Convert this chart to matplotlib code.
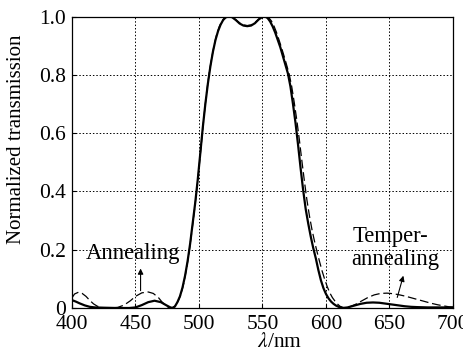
import matplotlib.pyplot as plt

plt.rcParams["font.family"] = ["Liberation Serif", "DejaVu Serif"]
plt.rcParams["mathtext.fontset"] = "stix"
plt.rcParams["font.size"] = 15.5

# temper-annealing (solid)
wl_temper = [400, 403, 406, 410, 414, 418, 425, 435, 445, 450, 455, 460, 465, 470,
             474, 477, 479, 481, 483, 485, 487, 489, 491, 493, 495, 497, 499, 501,
             503, 505, 507, 509, 511, 513, 515, 517, 519, 521, 523, 526, 529, 532,
             535, 538, 541, 544, 547, 550, 552, 554, 556, 558, 560, 562, 564, 566,
             568, 570, 572, 574, 576, 578, 580, 582, 584, 586, 588, 590, 592, 594,
             596, 598, 600, 602, 604, 606, 608, 610, 613, 617, 622, 627, 632, 637,
             642, 647, 652, 657, 662, 667, 672, 680, 690, 700]
t_temper = [0.027, 0.022, 0.016, 0.009, 0.004, 0.002, 0.001, 0.000, 0.000, 0.002,
            0.010, 0.020, 0.025, 0.020, 0.010, 0.003, 0.000, 0.005, 0.020, 0.040,
            0.070, 0.110, 0.160, 0.220, 0.290, 0.360, 0.440, 0.530, 0.620, 0.700,
            0.770, 0.830, 0.880, 0.920, 0.950, 0.972, 0.988, 0.997, 1.000, 0.998,
            0.988, 0.976, 0.969, 0.967, 0.969, 0.977, 0.990, 0.999, 1.000, 0.995,
            0.983, 0.966, 0.945, 0.920, 0.895, 0.865, 0.835, 0.805, 0.760, 0.700,
            0.635, 0.560, 0.480, 0.405, 0.340, 0.290, 0.245, 0.205, 0.170, 0.130,
            0.095, 0.068, 0.048, 0.033, 0.022, 0.014, 0.008, 0.004, 0.000, 0.002,
            0.008, 0.014, 0.018, 0.019, 0.018, 0.015, 0.012, 0.009, 0.006, 0.004,
            0.003, 0.002, 0.002, 0.002]

# annealing (dashed)
wl_anneal = [400, 402, 405, 408, 411, 414, 417, 420, 424, 430, 436, 441, 446, 450,
             455, 460, 464, 468, 471, 474, 476, 478, 480, 482, 484, 486, 488, 490,
             492, 494, 496, 498, 500, 502, 504, 506, 508, 510, 512, 514, 516, 518,
             520, 523, 526, 529, 532, 535, 538, 541, 544, 547, 550, 553, 555, 557,
             559, 561, 563, 565, 567, 569, 571, 573, 575, 577, 579, 581, 583, 585,
             587, 589, 591, 593, 595, 597, 599, 601, 603, 605, 607, 609, 611, 614,
             618, 623, 628, 633, 638, 643, 648, 653, 658, 663, 668, 673, 678, 683,
             688, 693, 697, 700]
t_anneal = [0.035, 0.048, 0.054, 0.050, 0.040, 0.026, 0.014, 0.006, 0.001, 0.000,
            0.002, 0.010, 0.025, 0.040, 0.052, 0.055, 0.050, 0.036, 0.020, 0.008,
            0.002, 0.000, 0.003, 0.012, 0.028, 0.050, 0.085, 0.130, 0.185, 0.250,
            0.320, 0.395, 0.480, 0.570, 0.660, 0.740, 0.805, 0.858, 0.903, 0.940,
            0.966, 0.984, 0.995, 1.000, 0.998, 0.989, 0.978, 0.971, 0.969, 0.971,
            0.979, 0.991, 0.999, 1.000, 0.996, 0.985, 0.968, 0.946, 0.920, 0.893,
            0.864, 0.834, 0.803, 0.760, 0.705, 0.645, 0.578, 0.505, 0.435, 0.370,
            0.315, 0.268, 0.228, 0.192, 0.158, 0.126, 0.098, 0.073, 0.052, 0.036,
            0.024, 0.014, 0.006, 0.001, 0.003, 0.012, 0.024, 0.036, 0.045, 0.050,
            0.051, 0.049, 0.045, 0.040, 0.034, 0.028, 0.022, 0.016, 0.011, 0.007,
            0.004, 0.003]

x_ticks = [400, 450, 500, 550, 600, 650, 700]
y_ticks = [0, 0.2, 0.4, 0.6, 0.8, 1.0]
y_ticklabels = ["0", "0.2", "0.4", "0.6", "0.8", "1.0"]

fig = plt.figure(figsize=(4.63, 3.52), dpi=100)
ax = fig.add_axes([0.1555, 0.125, 0.8229, 0.828])

ax.plot(wl_anneal, t_anneal, color="k", lw=0.9, dashes=(7, 3))
ax.plot(wl_temper, t_temper, color="k", lw=1.6)

ax.set_xlim(400, 700)
ax.set_ylim(0, 1.0)
ax.set_xticks(x_ticks)
ax.set_yticks(y_ticks)
ax.set_yticklabels(y_ticklabels)
ax.tick_params(direction="in", length=3, width=0.8)
ax.tick_params(axis="y", pad=4.5)
ax.tick_params(axis="x", pad=5)
ax.grid(True, color="k", linestyle=(0, (1.5, 2)), linewidth=0.7)
for s in ax.spines.values():
    s.set_linewidth(0.9)

ax.set_ylabel("Normalized transmission", fontsize=15)
ax.yaxis.set_label_coords(-0.121, 0.58)
ax.set_xlabel(r"$\lambda$/nm")
ax.xaxis.set_label_coords(0.546, -0.085)

# annotations
ax.text(411, 0.168, "Annealing", va="baseline", ha="left", fontsize=16.3)
ax.annotate("", xy=(454, 0.145), xytext=(454, 0.05),
            arrowprops=dict(arrowstyle="-|>", color="k", lw=0.8, mutation_scale=8))
ax.text(621, 0.227, "Temper-", va="baseline", ha="left", fontsize=16.3)
ax.text(619.5, 0.147, "annealing", va="baseline", ha="left", fontsize=16.3)
ax.annotate("", xy=(661.5, 0.12), xytext=(655.5, 0.027),
            arrowprops=dict(arrowstyle="-|>", color="k", lw=0.8, mutation_scale=8))

fig.savefig("out.png", dpi=100)
